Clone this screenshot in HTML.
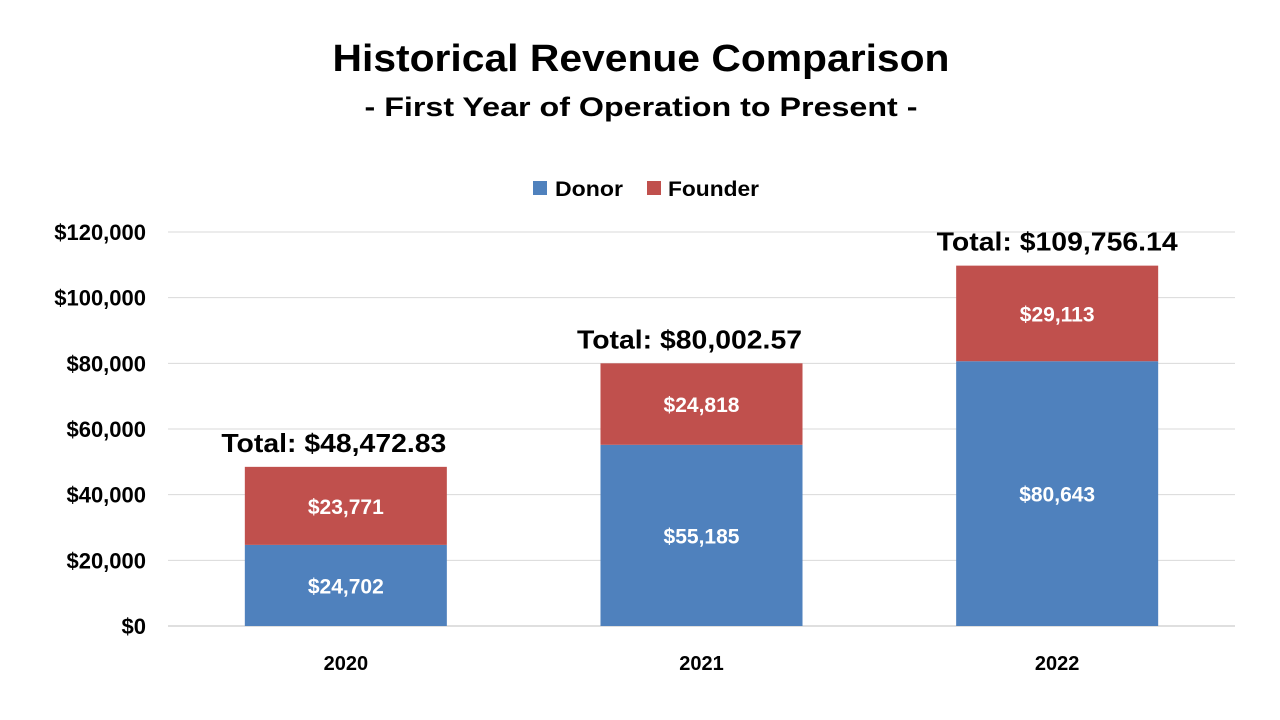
<!DOCTYPE html>
<html><head><meta charset="utf-8"><style>
html,body{margin:0;padding:0;background:#fff}
svg{display:block;font-family:"Liberation Sans",Arial,sans-serif;font-weight:bold}
</style></head><body>
<svg id="chart" width="1280" height="720" viewBox="0 0 1280 720">
<text x="641" y="71" text-anchor="middle" font-size="38" textLength="617" lengthAdjust="spacingAndGlyphs" fill="#000">Historical Revenue Comparison</text>
<text x="641" y="116" text-anchor="middle" font-size="27" textLength="553" lengthAdjust="spacingAndGlyphs" fill="#000">- First Year of Operation to Present -</text>
<g>
<rect x="533" y="181" width="14" height="14" fill="#4F81BD"/>
<text x="555" y="196" font-size="21" textLength="68" lengthAdjust="spacingAndGlyphs">Donor</text>
<rect x="647" y="181" width="14" height="14" fill="#C0504D"/>
<text x="668" y="196" font-size="21" textLength="91" lengthAdjust="spacingAndGlyphs">Founder</text>
</g>
<g id="grid"></g><g id="bars"></g><g id="labels"></g>
</svg>
<script>
const categories = ["2020","2021","2022"];
const donor = [24702, 55185, 80643];
const founder = [23771, 24818, 29113];
const totals = ["Total: $48,472.83","Total: $80,002.57","Total: $109,756.14"];
const ticks = [0,20000,40000,60000,80000,100000,120000];
const tickLabels = ["$0","$20,000","$40,000","$60,000","$80,000","$100,000","$120,000"];

const NS="http://www.w3.org/2000/svg";
const x0=168,x1=1235,y0=626,y1=232,maxV=120000;
const yS=v=>y0-(v/maxV)*(y0-y1);
const band=(x1-x0)/categories.length;
const xC=i=>x0+band*(i+0.5);
const bw=band*0.568;
function mk(tag,attrs,parent,txt){const e=document.createElementNS(NS,tag);for(const k in attrs)e.setAttribute(k,attrs[k]);if(txt!==undefined)e.textContent=txt;parent.appendChild(e);return e;}
const fmt=v=>"$"+v.toLocaleString("en-US");
const grid=document.getElementById("grid"),bars=document.getElementById("bars"),labels=document.getElementById("labels");
ticks.forEach((t,i)=>{
  const l=mk("line",{x1:x0,x2:x1,y1:yS(t),y2:yS(t),stroke:i===0?"#bfbfbf":"#d9d9d9","stroke-width":1},grid);
  
  
  const tx=mk("text",{x:146,y:yS(t)+8,"text-anchor":"end","font-size":22},labels,tickLabels[i]);
  
  
});
categories.forEach((c,i)=>{
  const xc=xC(i),xl=xc-bw/2;
  const d=mk("rect",{x:xl,y:yS(donor[i]),width:bw,height:yS(0)-yS(donor[i]),fill:"#4F81BD"},bars);
  
  
  const top=donor[i]+founder[i];
  const f=mk("rect",{x:xl,y:yS(top),width:bw,height:yS(donor[i])-yS(top),fill:"#C0504D"},bars);
  
  
  const dl=mk("text",{x:xc,y:(yS(0)+yS(donor[i]))/2+8,"text-anchor":"middle","font-size":21,fill:"#fff"},labels,fmt(donor[i]));
  
  
  const fl=mk("text",{x:xc,y:(yS(donor[i])+yS(top))/2+8,"text-anchor":"middle","font-size":21,fill:"#fff"},labels,fmt(founder[i]));
  
  
  const long=totals[i].length>17;
  const tl=mk("text",{x:long?xc:xc-12,y:yS(top)-15,"text-anchor":"middle","font-size":26,textLength:long?241:225,lengthAdjust:"spacingAndGlyphs"},labels,totals[i]);
  
  
  const xl2=mk("text",{x:xc,y:670,"text-anchor":"middle","font-size":20},labels,c);
  
  
});
</script>
</body></html>
